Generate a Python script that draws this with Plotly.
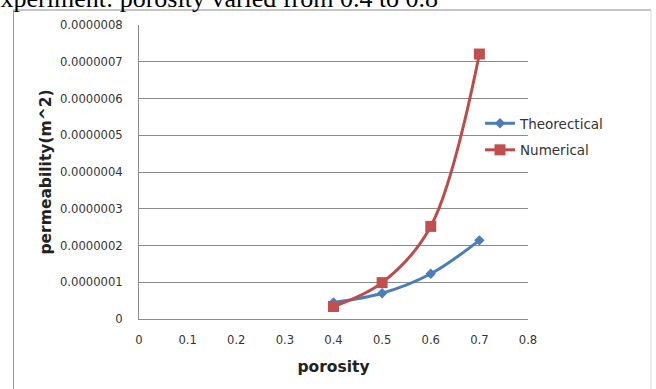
import plotly.graph_objects as go

# ---- data ----
porosity = [0.4, 0.5, 0.6, 0.7]
theoretical = [0.45e-7, 0.70e-7, 1.23e-7, 2.14e-7]
numerical = [0.34e-7, 0.99e-7, 2.52e-7, 7.21e-7]

x_ticks = [0, 0.1, 0.2, 0.3, 0.4, 0.5, 0.6, 0.7, 0.8]
y_ticks = [0, 1e-7, 2e-7, 3e-7, 4e-7, 5e-7, 6e-7, 7e-7, 8e-7]
y_tick_text = ["0", "0.0000001", "0.0000002", "0.0000003", "0.0000004",
               "0.0000005", "0.0000006", "0.0000007", "0.0000008"]

# ---- page geometry (pixels) ----
W, H = 656, 389
L, R, T, B = 139, 528, 25, 319


def fx(px):
    return (px - L) / (R - L)


def fy(py):
    return (B - py) / (B - T)


BLUE = "#4A7EBB"
RED = "#BE4B48"
GRID = "#8A8A8A"
TXT = "#333333"
SANS = "DejaVu Sans"

fig = go.Figure()
fig.add_trace(go.Scatter(
    x=porosity, y=theoretical, name="Theorectical", mode="lines+markers",
    line=dict(color=BLUE, width=3, shape="spline"),
    marker=dict(symbol="diamond", size=8, color=BLUE),
    legendgroup="a",
))
fig.add_trace(go.Scatter(
    x=porosity, y=numerical, name="Numerical", mode="lines+markers",
    line=dict(color=RED, width=3, shape="spline"),
    marker=dict(symbol="square", size=11, color="#C0504D"),
    legendgroup="b",
))

# outer chart frame
frame = [
    (13.5, 10, 651, 10, "#8C8C8C"),
    (13.5, 10, 13.5, 400, "#9A9A9A"),
    (651, 10, 651, 400, "#DDDDDD"),
]
shapes = [dict(type="line", xref="paper", yref="paper",
               x0=fx(a), y0=fy(b), x1=fx(c), y1=fy(d),
               line=dict(color=col, width=1), layer="below")
          for a, b, c, d, col in frame]

fig.update_layout(
    width=W, height=H,
    margin=dict(l=L, r=W - R, t=T, b=H - B, pad=0),
    paper_bgcolor="white", plot_bgcolor="white",
    showlegend=True,
    legend=dict(
        x=fx(480), y=fy(108), xanchor="left", yanchor="top",
        bgcolor="rgba(0,0,0,0)", borderwidth=0,
        font=dict(family=SANS, size=13.5, color=TXT),
        traceorder="grouped", tracegroupgap=6,
    ),
    shapes=shapes,
    annotations=[dict(
        text="experiment: porosity varied from 0.4 to 0.8",
        xref="paper", yref="paper", x=fx(-11.5), y=fy(-2),
        xanchor="left", yanchor="middle", showarrow=False,
        borderpad=0, borderwidth=0,
        font=dict(family="Liberation Serif", size=26, color="black"),
    )],
    xaxis=dict(
        range=[0, 0.8], tickvals=x_ticks, ticktext=[str(v) for v in x_ticks],
        showgrid=False, zeroline=False, showline=True, linecolor=GRID,
        linewidth=1, ticks="", ticklabelstandoff=10,
        tickfont=dict(family=SANS, size=11.6, color=TXT),
        title=dict(text="<b>porosity</b>", standoff=15,
                   font=dict(family=SANS, size=15.5, color="#222")),
    ),
    yaxis=dict(
        range=[0, 8e-7], tickvals=y_ticks, ticktext=y_tick_text,
        showgrid=True, gridcolor=GRID, gridwidth=1, zeroline=False,
        showline=True, linecolor=GRID, linewidth=1, ticks="",
        ticklabelstandoff=13,
        tickfont=dict(family=SANS, size=11.6, color=TXT),
        title=dict(text="<b>permeability(m^2)</b>", standoff=4,
                   font=dict(family=SANS, size=15.5, color="#222")),
    ),
)

fig.write_html("out.html")
